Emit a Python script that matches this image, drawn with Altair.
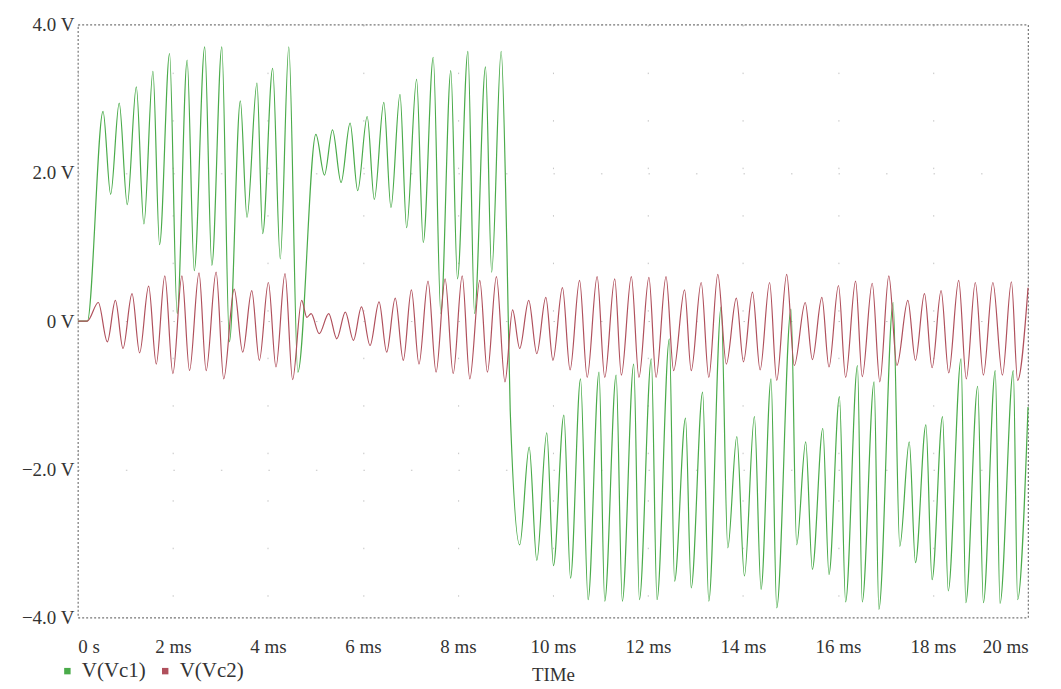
import altair as alt
import pandas as pd

# V(Vc1): times (ms) and voltages (V) of the peaks/troughs
t_vc1 = [0, 0.2,
         0.53, 0.69, 0.87, 1.04, 1.23, 1.39, 1.58, 1.72, 1.93, 2.09, 2.30, 2.45, 2.67, 2.82,
         3.03, 3.19, 3.42, 3.56, 3.77, 3.89, 4.10, 4.26, 4.44, 4.63,
         5.01, 5.19, 5.36, 5.54, 5.73, 5.89, 6.09, 6.24, 6.44, 6.59, 6.78, 6.92, 7.13, 7.27,
         7.48, 7.64, 7.85, 7.99, 8.21, 8.35, 8.58, 8.71, 8.91,
         9.03, 9.10,
         9.30, 9.50, 9.66, 9.87, 10.01, 10.23, 10.37, 10.58, 10.74, 10.97, 11.09, 11.33, 11.46,
         11.70, 11.82, 12.07, 12.19, 12.45, 12.56, 12.79, 12.91, 13.15, 13.28, 13.54, 13.68,
         13.87, 14.03, 14.24, 14.38,
         14.59, 14.71, 15.01, 15.13, 15.32, 15.46, 15.68, 15.81, 16.03, 16.16, 16.41, 16.51,
         16.76, 16.86, 17.16, 17.30, 17.50, 17.63, 17.85, 17.98, 18.20, 18.32, 18.59, 18.69,
         18.94, 19.06, 19.31, 19.41, 19.69, 19.78,
         20.0]
v_vc1 = [0, 0,
         2.83, 1.71, 2.94, 1.57, 3.16, 1.31, 3.37, 1.03, 3.61, 0.10, 3.52, 0.68, 3.70, 0.75,
         3.70, -0.28, 2.97, 1.40, 3.21, 1.18, 3.41, 0.84, 3.70, -0.69,
         2.52, 1.97, 2.58, 1.87, 2.67, 1.76, 2.76, 1.64, 2.95, 1.53, 3.06, 1.26, 3.26, 1.06,
         3.56, 0.10, 3.38, 0.57, 3.64, 0.10, 3.43, 0.66, 3.64,
         1.0, -1.2,
         -3.02, -1.70, -3.23, -1.51, -3.30, -1.27, -3.47, -0.78, -3.76, -0.69, -3.78, -0.73, -3.78,
         -0.58, -3.76, -0.51, -3.76, -0.24, -3.51, -1.31, -3.60, -0.96, -3.78, 0.19, -3.06,
         -1.56, -3.44, -1.29, -3.62,
         -0.78, -3.87, 0.16, -3.02, -1.63, -3.35, -1.45, -3.42, -1.02, -3.79, -0.60, -3.79,
         -0.82, -3.89, 0.25, -3.04, -1.63, -3.26, -1.40, -3.49, -1.29, -3.64, -0.51, -3.80,
         -0.88, -3.80, -0.67, -3.81, -0.67, -3.76,
         -1.16]

# V(Vc2)
t_vc2 = [0, 0.2, 0.43, 0.62, 0.79, 0.95, 1.14, 1.30, 1.49, 1.65, 1.83, 2.00, 2.19, 2.35,
         2.55, 2.70, 2.91, 3.07, 3.29, 3.47, 3.66, 3.82, 4.01, 4.17, 4.36, 4.52, 4.71, 4.82,
         4.91, 5.08, 5.28, 5.45, 5.63, 5.80, 5.97, 6.15, 6.34, 6.50, 6.68, 6.85, 7.02, 7.18,
         7.37, 7.54, 7.73, 7.90, 8.09, 8.25, 8.46, 8.62, 8.81, 8.99, 9.15, 9.30, 9.49, 9.66,
         9.85, 10.00, 10.20, 10.36, 10.56, 10.72, 10.93, 11.09, 11.30, 11.44, 11.65, 11.81,
         12.02, 12.17, 12.38, 12.54, 12.77, 12.91, 13.12, 13.28, 13.47, 13.65, 13.86, 14.01,
         14.20, 14.36, 14.56, 14.71, 14.92, 15.08, 15.31, 15.46, 15.66, 15.81, 16.01, 16.16,
         16.37, 16.51, 16.72, 16.88, 17.07, 17.24, 17.47, 17.63, 17.82, 17.98, 18.17, 18.33,
         18.54, 18.70, 18.89, 19.06, 19.26, 19.46, 19.65, 19.78, 20.0]
v_vc2 = [0, 0, 0.25, -0.28, 0.28, -0.37, 0.37, -0.43, 0.47, -0.58, 0.61, -0.71, 0.61, -0.67,
         0.65, -0.67, 0.66, -0.78, 0.43, -0.42, 0.41, -0.53, 0.52, -0.62, 0.64, -0.79, 0.28, 0.05,
         0.10, -0.17, 0.10, -0.24, 0.12, -0.26, 0.19, -0.33, 0.26, -0.42, 0.31, -0.53, 0.42, -0.58,
         0.54, -0.69, 0.57, -0.71, 0.61, -0.78, 0.55, -0.69, 0.60, -0.82, 0.15, -0.37, 0.28, -0.44,
         0.32, -0.53, 0.45, -0.66, 0.55, -0.76, 0.60, -0.76, 0.57, -0.73, 0.60, -0.76,
         0.59, -0.76, 0.60, -0.67, 0.42, -0.67, 0.52, -0.76, 0.63, -0.58, 0.31, -0.55,
         0.39, -0.66, 0.52, -0.80, 0.63, -0.60, 0.25, -0.52, 0.32, -0.62, 0.48, -0.76,
         0.54, -0.75, 0.51, -0.82, 0.61, -0.60, 0.28, -0.53, 0.37, -0.63, 0.41, -0.70,
         0.55, -0.78, 0.52, -0.73, 0.52, -0.73, 0.53, -0.80, 0.45]

series_names = ["V(Vc1)", "V(Vc2)"]
series_colors = ["#4aab4a", "#b0505c"]
x_ticks = [0, 2, 4, 6, 8, 10, 12, 14, 16, 18, 20]
y_ticks = [-4, -2, 0, 2, 4]

assert len(t_vc1) == len(v_vc1)
assert len(t_vc2) == len(v_vc2)

df = pd.concat([
    pd.DataFrame({"t": t_vc1, "v": v_vc1, "s": series_names[0], "o": range(len(t_vc1))}),
    pd.DataFrame({"t": t_vc2, "v": v_vc2, "s": series_names[1], "o": range(len(t_vc2))}),
])

FONT = "Liberation Serif"
FS = 19

chart = alt.Chart(df).mark_line(strokeWidth=1.2, interpolate="monotone").encode(
    x=alt.X("t:Q", scale=alt.Scale(domain=[0, 20], nice=False),
            axis=alt.Axis(values=x_ticks, title="TIMe",
                          labelExpr="datum.value == 0 ? '0 s' : datum.value + ' ms'",
                          ticks=False, labelPadding=20, titlePadding=9)),
    y=alt.Y("v:Q", scale=alt.Scale(domain=[-4, 4], nice=False),
            axis=alt.Axis(values=y_ticks, title=None,
                          labelExpr="datum.value == 0 ? '0 V' : format(datum.value, '.1f') + ' V'",
                          ticks=False, labelPadding=4)),
    color=alt.Color("s:N", scale=alt.Scale(domain=series_names, range=series_colors),
                    legend=alt.Legend(title=None, orient="none", direction="horizontal",
                                      legendX=-21, legendY=637, symbolType="square",
                                      symbolSize=6, symbolStrokeWidth=4,
                                      labelFont=FONT, labelFontSize=21,
                                      labelColor="#333", columnPadding=8, labelOffset=4)),
    order="o:Q",
).properties(
    width=952, height=594,
    padding={"left": 70, "top": 16, "right": 25, "bottom": 70},
    autosize=alt.AutoSizeParams(type="none"),
    background="white",
).configure_view(
    stroke="#777", strokeDash=[2, 2], strokeWidth=1.2,
).configure_axis(
    domain=False, grid=True, gridColor="#888", gridOpacity=0.5, gridDash=[1.5, 46.1],
    labelFont=FONT, labelFontSize=FS, labelColor="#333",
    titleFont=FONT, titleFontSize=FS, titleFontWeight="normal", titleColor="#333",
)

chart.save("out.html", embed_options={"renderer": "svg", "actions": False})
